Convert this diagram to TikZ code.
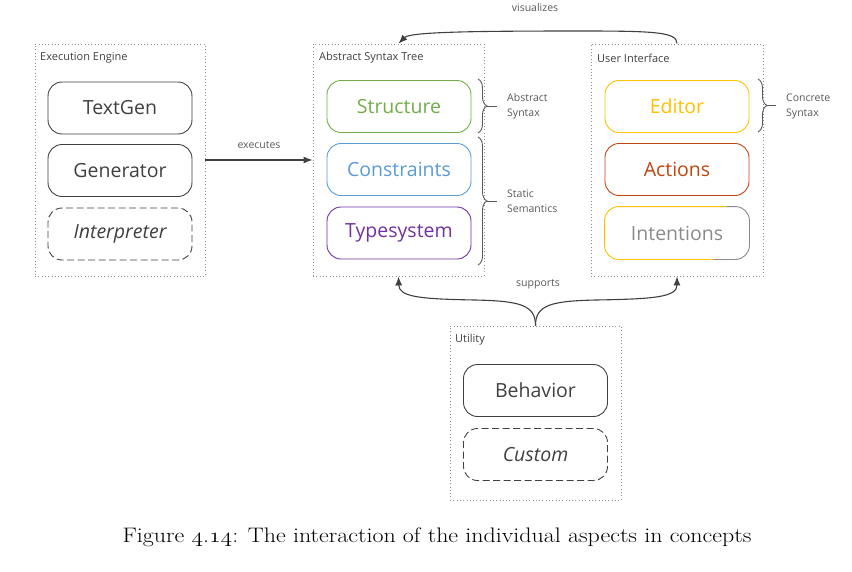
\documentclass[tikz,border=0pt]{standalone}
\usepackage{fontspec}
\newfontfamily\osans{Open Sans}
\usetikzlibrary{arrows.meta,decorations.pathreplacing}
\newcommand\oldnum[1]{{\fontencoding{OML}\fontfamily{cmm}\fontseries{m}\fontshape{it}\selectfont #1}}
\definecolor{txt}{HTML}{404040}
\definecolor{lbl}{HTML}{595959}
\definecolor{dotc}{HTML}{8C8C8C}
\definecolor{cgreen}{HTML}{70AD47}
\definecolor{cblue}{HTML}{5B9BD5}
\definecolor{cpurple}{HTML}{7030A0}
\definecolor{cyellow}{HTML}{FFC000}
\definecolor{cred}{HTML}{C0440F}
\definecolor{cgray}{HTML}{8A8A8A}
\tikzset{
  container/.style={draw=dotc, line width=0.9pt, dash pattern=on 0.9pt off 2.4pt, rectangle, inner sep=0pt},
  aspectbox/.style={draw=txt, line width=0.9pt, rounded corners=14pt, rectangle, minimum width=144pt, minimum height=52pt, inner sep=0pt, font=\osans\fontsize{19.5}{22}\selectfont, text=txt},
  optbox/.style={aspectbox, dash pattern=on 7pt off 3.5pt, font=\osans\itshape\fontsize{19.5}{22}\selectfont},
  title/.style={anchor=west, font=\osans\fontsize{11}{13}\selectfont, text=txt, inner sep=0pt},
  edgelbl/.style={font=\osans\fontsize{10.5}{12}\selectfont, text=lbl, inner sep=0pt},
  side/.style={anchor=west, align=left, font=\osans\fontsize{10.5}{15}\selectfont, text=lbl, inner sep=0pt},
  conn/.style={draw=txt, line width=1.1pt, -{Latex[length=9pt,width=7pt]}},
  bracepath/.style={draw=lbl, line width=0.9pt, decorate, decoration={brace, amplitude=9pt}},
  tick/.style={draw=lbl, line width=0.9pt},
  outline/.style={line width=0.9pt, rounded corners=14pt}
}
\begin{document}
\begin{tikzpicture}[x=1pt,y=-1pt]
\useasboundingbox (0,0) rectangle (852,571);

% containers
\node[container, minimum width=170pt, minimum height=232pt] (ee) at (120,160) {};
\node[container, minimum width=171pt, minimum height=232pt] (ast) at (398.5,160) {};
\node[container, minimum width=172pt, minimum height=232pt] (ui) at (677,160) {};
\node[container, minimum width=171pt, minimum height=174pt] (util) at (535.5,413) {};

\node[title] (eet) at (40,58) {Execution Engine};
\node[title] (astt) at (319,58) {Abstract Syntax Tree};
\node[title] (uit) at (597,58) {User Interface};
\node[title] (utilt) at (455,340) {Utility};

% execution engine
\node[aspectbox] (textgen) at (120,108) {TextGen};
\node[aspectbox] (generator) at (120,170.5) {Generator};
\node[optbox] (interp) at (120,234) {Interpreter};

% AST
\node[aspectbox, draw=cgreen, text=cgreen] (structure) at (399,106.5) {Structure};
\node[aspectbox, draw=cblue, text=cblue] (constraints) at (399,169.5) {Constraints};
\node[aspectbox, draw=cpurple, text=cpurple] (typesystem) at (399,233) {Typesystem};

% UI
\node[aspectbox, draw=cyellow, text=cyellow] (editor) at (677,106.5) {Editor};
\node[aspectbox, draw=cred, text=cred] (actions) at (677,169.5) {Actions};
\node[aspectbox, draw=none, text=cgray] (intentions) at (677,233) {Intentions};
\begin{scope}
  \clip (600,200) -- (728,200) -- (712,265) -- (600,265) -- cycle;
  \draw[outline, cyellow] (intentions.north west) rectangle (intentions.south east);
\end{scope}
\begin{scope}
  \clip (728,200) -- (760,200) -- (760,265) -- (712,265) -- cycle;
  \draw[outline, cgray] (intentions.north west) rectangle (intentions.south east);
\end{scope}

% Utility
\node[aspectbox] (behavior) at (535.5,390.5) {Behavior};
\node[optbox] (custom) at (535.5,454.5) {Custom};

% braces
\coordinate (b1t) at (478,79);
\coordinate (b1b) at (478,133);
\coordinate (b1m) at (487,106);
\coordinate (b1e) at (497,106);
\draw[bracepath] (b1t) -- (b1b);
\draw[tick] (b1m) -- (b1e);
\node[side] (abssyn) at (507,106) {Abstract\\Syntax};

\coordinate (b2t) at (478,137);
\coordinate (b2b) at (478,265);
\coordinate (b2m) at (487,201);
\coordinate (b2e) at (497,201);
\draw[bracepath] (b2t) -- (b2b);
\draw[tick] (b2m) -- (b2e);
\node[side] (statsem) at (507,201) {Static\\Semantics};

\coordinate (b3t) at (758,79);
\coordinate (b3b) at (758,132);
\coordinate (b3m) at (767,105.5);
\coordinate (b3e) at (776,105.5);
\draw[bracepath] (b3t) -- (b3b);
\draw[tick] (b3m) -- (b3e);
\node[side] (consyn) at (786,106) {Concrete\\Syntax};

% connectors
\draw[conn] (ee.east) -- (ast.west);
\node[edgelbl] (exl) at (259,145) {executes};

\draw[conn] (ui.north) .. controls (677,32) and (655,31) .. (580,31)
   .. controls (470,31) and (410,32) .. (ast.north);
\node[edgelbl] (visl) at (535,8) {visualizes};

\draw[conn] (util.north) .. controls (535.5,305) and (520,301) .. (475,300)
   .. controls (420,299) and (399,297) .. (ast.south);
\draw[conn] (util.north) .. controls (535.5,305) and (551,301) .. (596,300)
   .. controls (655,299) and (677,297) .. (ui.south);
\node[edgelbl] (supl) at (538,284) {supports};

% caption
\node[font=\fontsize{21}{25}\selectfont, text=black, inner sep=0pt] (cap) at (437,537)
  {\scalebox{1.14}[1]{Figure \oldnum{4}.\oldnum{14}: The interaction of the individual aspects in concepts}};
\end{tikzpicture}
\end{document}
